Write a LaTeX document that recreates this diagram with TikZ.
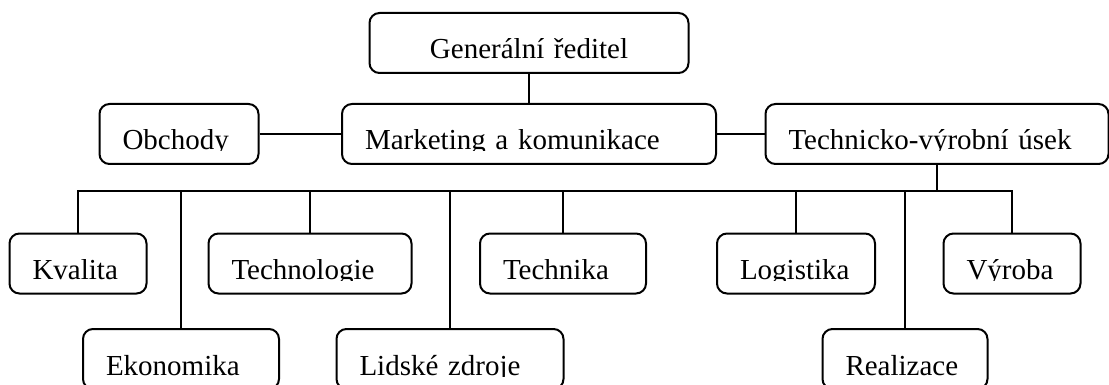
\documentclass[tikz,border=0pt]{standalone}
\usepackage{fontspec}
\usepackage{adjustbox}
\setmainfont{Liberation Serif}
\newcommand{\cuttext}[1]{\clipbox{0pt {\depth-1pt} 0pt 0pt}{#1}}

\begin{document}
\begin{tikzpicture}[x=1pt, y=-1pt, line width=2pt,
  unit/.style={draw, rounded corners=10pt, minimum height=60pt, inner ysep=0pt, inner xsep=23pt,
    text height=32pt, text depth=0pt, align=left, font=\fontsize{29}{33}\selectfont}]
\useasboundingbox (0,0) rectangle (1109,385);

				\node (gen) [unit, text width=273pt, align=center] at (529,43) {\cuttext{Generální ředitel}};
				\node (obch) [unit, text width=113pt] at (179,134) {\cuttext{Obchody}};
				\node (mkt) [unit, text width=328pt] at (529,134) {\cuttext{Marketing a komunikace}};
				\node (tvu) [unit, text width=297pt] at (937,134) {\cuttext{Technicko-výrobní úsek}};

				\node (kval) [unit, text width=91pt] at (78,263.5) {\cuttext{Kvalita}};
				\node (tlg) [unit, text width=157pt] at (310,263.5) {\cuttext{Technologie}};
				\node (tnk) [unit, text width=120pt] at (563,263.5) {\cuttext{Technika}};
				\node (log) [unit, text width=112pt] at (796,263.5) {\cuttext{Logistika}};
				\node (vyr) [unit, text width=91pt] at (1012,263.5) {\cuttext{Výroba}};

				\node (eko) [unit, text width=150pt] at (181,359) {\cuttext{Ekonomika}};
				\node (lz) [unit, text width=181pt] at (450,359) {\cuttext{Lidské zdroje}};
				\node (real) [unit, text width=119pt] at (905,359) {\cuttext{Realizace}};

				\coordinate (bus) at (0,191);

				\draw (gen) -- (mkt);
				\draw (obch) -- (mkt);
				\draw (mkt) -- (tvu);
				\draw (tvu.south) -- (tvu.south |- bus);
				\draw (kval.north) -- (kval.north |- bus) -- (vyr.north |- bus) -- (vyr.north);
				\draw (eko.north |- bus) -- (eko.north);
				\draw (tlg.north |- bus) -- (tlg.north);
				\draw (lz.north |- bus) -- (lz.north);
				\draw (tnk.north |- bus) -- (tnk.north);
				\draw (log.north |- bus) -- (log.north);
				\draw (real.north |- bus) -- (real.north);
			\end{tikzpicture}
\end{document}
